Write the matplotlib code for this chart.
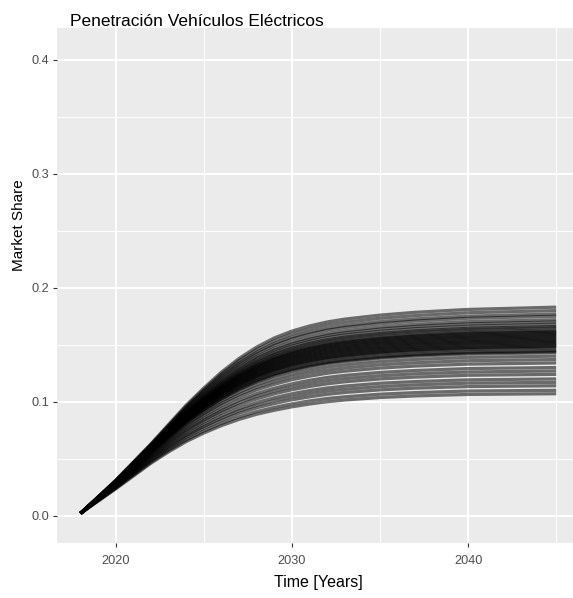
import numpy as np
import matplotlib
matplotlib.use("Agg")
import matplotlib.pyplot as plt
from matplotlib.ticker import FixedLocator

# ---------------- data ----------------
# one value per simulation run (40 runs) for each sampled year
years = [2018, 2020, 2022, 2023, 2024, 2025, 2026, 2027, 2028,
         2029, 2030, 2031, 2032, 2033, 2035, 2037, 2040, 2045]

share_2018 = [.0020, .0020, .0020, .0020, .0020, .0020, .0020, .0020, .0020, .0020,
              .0020, .0020, .0020, .0020, .0020, .0020, .0020, .0020, .0020, .0020,
              .0020, .0020, .0020, .0020, .0020, .0020, .0020, .0020, .0020, .0020,
              .0020, .0020, .0020, .0020, .0020, .0020, .0020, .0020, .0020, .0020]
share_2020 = [.0235, .0239, .0245, .0249, .0253, .0258, .0262, .0266, .0270, .0274,
              .0277, .0280, .0281, .0282, .0284, .0285, .0286, .0287, .0288, .0289,
              .0290, .0290, .0291, .0292, .0293, .0294, .0295, .0295, .0296, .0297,
              .0298, .0299, .0300, .0301, .0303, .0304, .0306, .0307, .0309, .0310]
share_2022 = [.0460, .0469, .0481, .0490, .0498, .0509, .0517, .0525, .0535, .0543,
              .0550, .0557, .0559, .0561, .0566, .0568, .0570, .0572, .0574, .0576,
              .0579, .0581, .0583, .0585, .0587, .0589, .0590, .0592, .0594, .0596,
              .0598, .0602, .0603, .0607, .0610, .0614, .0618, .0621, .0626, .0630]
share_2023 = [.0560, .0572, .0588, .0599, .0610, .0625, .0636, .0647, .0660, .0671,
              .0680, .0690, .0693, .0696, .0703, .0706, .0709, .0712, .0715, .0718,
              .0721, .0724, .0727, .0730, .0733, .0736, .0738, .0741, .0744, .0747,
              .0750, .0755, .0758, .0763, .0768, .0774, .0781, .0786, .0793, .0800]
share_2024 = [.0650, .0665, .0685, .0699, .0713, .0732, .0746, .0759, .0777, .0790,
              .0804, .0816, .0821, .0825, .0833, .0837, .0841, .0846, .0850, .0854,
              .0858, .0862, .0866, .0870, .0874, .0878, .0882, .0886, .0890, .0893,
              .0897, .0905, .0909, .0916, .0924, .0931, .0942, .0949, .0960, .0970]
share_2025 = [.0725, .0743, .0766, .0783, .0800, .0822, .0839, .0855, .0877, .0893,
              .0909, .0925, .0930, .0935, .0945, .0951, .0956, .0961, .0966, .0971,
              .0976, .0981, .0986, .0991, .0996, .1001, .1006, .1011, .1016, .1021,
              .1026, .1035, .1040, .1050, .1059, .1069, .1083, .1092, .1106, .1120]
share_2026 = [.0790, .0810, .0836, .0856, .0876, .0902, .0921, .0940, .0966, .0985,
              .1003, .1022, .1028, .1034, .1047, .1053, .1059, .1065, .1071, .1077,
              .1084, .1090, .1096, .1102, .1108, .1114, .1120, .1126, .1132, .1138,
              .1144, .1156, .1161, .1173, .1185, .1197, .1214, .1226, .1243, .1260]
share_2027 = [.0845, .0867, .0897, .0919, .0940, .0969, .0991, .1013, .1041, .1063,
              .1084, .1105, .1112, .1119, .1133, .1140, .1147, .1154, .1161, .1168,
              .1175, .1182, .1189, .1196, .1203, .1210, .1217, .1224, .1231, .1238,
              .1245, .1258, .1265, .1279, .1292, .1306, .1326, .1340, .1360, .1380]
share_2028 = [.0890, .0914, .0946, .0970, .0994, .1025, .1049, .1072, .1104, .1127,
              .1151, .1174, .1182, .1189, .1205, .1213, .1220, .1228, .1236, .1244,
              .1251, .1259, .1267, .1274, .1282, .1290, .1297, .1305, .1313, .1321,
              .1328, .1343, .1351, .1366, .1382, .1397, .1419, .1435, .1457, .1480]
share_2029 = [.0925, .0950, .0984, .1010, .1035, .1069, .1094, .1119, .1153, .1178,
              .1203, .1228, .1237, .1245, .1262, .1270, .1278, .1287, .1295, .1303,
              .1312, .1320, .1328, .1337, .1345, .1353, .1362, .1370, .1378, .1386,
              .1395, .1411, .1420, .1436, .1453, .1469, .1494, .1511, .1535, .1560]
share_2030 = [.0955, .0981, .1017, .1043, .1070, .1105, .1131, .1157, .1193, .1219,
              .1245, .1271, .1280, .1289, .1306, .1315, .1324, .1333, .1341, .1350,
              .1359, .1368, .1376, .1385, .1394, .1402, .1411, .1420, .1429, .1437,
              .1446, .1463, .1472, .1490, .1507, .1524, .1551, .1568, .1594, .1620]
share_2031 = [.0980, .1007, .1043, .1071, .1098, .1134, .1161, .1188, .1224, .1252,
              .1279, .1306, .1315, .1324, .1342, .1351, .1360, .1369, .1378, .1387,
              .1396, .1405, .1414, .1423, .1432, .1441, .1450, .1459, .1468, .1477,
              .1486, .1504, .1513, .1531, .1548, .1566, .1593, .1611, .1638, .1665]
share_2032 = [.1000, .1028, .1065, .1093, .1120, .1157, .1185, .1213, .1250, .1277,
              .1305, .1333, .1342, .1351, .1370, .1379, .1388, .1397, .1406, .1416,
              .1425, .1434, .1443, .1452, .1462, .1471, .1480, .1489, .1498, .1507,
              .1517, .1535, .1544, .1563, .1581, .1599, .1627, .1645, .1673, .1700]
share_2033 = [.1015, .1043, .1081, .1109, .1137, .1175, .1203, .1231, .1268, .1296,
              .1324, .1352, .1362, .1371, .1390, .1399, .1408, .1418, .1427, .1436,
              .1446, .1455, .1464, .1474, .1483, .1492, .1502, .1511, .1520, .1530,
              .1539, .1558, .1567, .1586, .1604, .1623, .1651, .1669, .1697, .1725]
share_2035 = [.1037, .1066, .1104, .1133, .1162, .1200, .1228, .1257, .1295, .1324,
              .1352, .1381, .1390, .1400, .1419, .1429, .1438, .1448, .1457, .1467,
              .1476, .1486, .1495, .1505, .1514, .1523, .1533, .1542, .1552, .1561,
              .1571, .1590, .1599, .1618, .1637, .1656, .1684, .1703, .1732, .1760]
share_2037 = [.1051, .1080, .1119, .1148, .1177, .1216, .1245, .1274, .1313, .1342,
              .1371, .1400, .1410, .1419, .1439, .1448, .1458, .1468, .1477, .1487,
              .1497, .1506, .1516, .1525, .1535, .1545, .1554, .1564, .1574, .1583,
              .1593, .1612, .1622, .1641, .1660, .1679, .1708, .1727, .1756, .1785]
share_2040 = [.1064, .1094, .1133, .1163, .1192, .1232, .1261, .1291, .1330, .1360,
              .1389, .1418, .1428, .1438, .1458, .1467, .1477, .1487, .1497, .1507,
              .1517, .1526, .1536, .1546, .1556, .1566, .1575, .1585, .1595, .1605,
              .1615, .1634, .1644, .1663, .1683, .1703, .1732, .1751, .1781, .1810]
share_2045 = [.1070, .1100, .1140, .1170, .1200, .1240, .1270, .1300, .1340, .1370,
              .1400, .1430, .1440, .1450, .1470, .1480, .1490, .1500, .1510, .1520,
              .1530, .1540, .1550, .1560, .1570, .1580, .1590, .1600, .1610, .1620,
              .1630, .1650, .1660, .1680, .1700, .1720, .1750, .1770, .1800, .1830]

y_ticks = [0.0, 0.1, 0.2, 0.3, 0.4]
y_tick_labels = ["0.0", "0.1", "0.2", "0.3", "0.4"]
x_ticks = [2020, 2030, 2040]
x_tick_labels = ["2020", "2030", "2040"]

title = "Penetración Vehículos Eléctricos"
x_label = "Time [Years]"
y_label = "Market Share"

# ---------------- figure ----------------
plt.rcParams['font.family'] = ['Liberation Sans', 'DejaVu Sans']

W, H = 573, 598
fig = plt.figure(figsize=(W / 100, H / 100), dpi=100)
fig.patch.set_facecolor("white")

left_px, right_px, top_px, bottom_px = 56.7, 580.0, 28.0, 543.0
ax = fig.add_axes([left_px / W, 1 - bottom_px / H,
                   (right_px - left_px) / W, (bottom_px - top_px) / H])
ax.set_facecolor("#EBEBEB")
for s in ax.spines.values():
    s.set_visible(False)

table = np.vstack([share_2018, share_2020, share_2022, share_2023, share_2024,
                   share_2025, share_2026, share_2027, share_2028, share_2029,
                   share_2030, share_2031, share_2032, share_2033, share_2035,
                   share_2037, share_2040, share_2045])  # rows: years, cols: runs

for run in range(table.shape[1]):
    ax.plot(years, table[:, run], color="black", lw=2.3, alpha=0.55,
            solid_capstyle="butt", solid_joinstyle="round", zorder=3)

ax.set_xlim(2016.65, 2046.35)
ax.set_ylim(-0.024, 0.428)

ax.xaxis.set_major_locator(FixedLocator(x_ticks))
ax.xaxis.set_minor_locator(FixedLocator([2015, 2025, 2035, 2045]))
ax.yaxis.set_major_locator(FixedLocator(y_ticks))
ax.yaxis.set_minor_locator(FixedLocator([0.05, 0.15, 0.25, 0.35]))
ax.set_xticklabels(x_tick_labels)
ax.set_yticklabels(y_tick_labels)

ax.grid(which="major", color="white", lw=1.4, zorder=0)
ax.grid(which="minor", color="white", lw=0.7, zorder=0)
ax.set_axisbelow(True)

ax.tick_params(which="major", length=3.0, width=0.8, color="#333333",
               labelcolor="#4D4D4D", labelsize=9.2, pad=2.5)
ax.tick_params(which="minor", length=0)
ax.tick_params(axis="x", pad=5.5)

fig.text(70 / W, 1 - 25.7 / H, title, fontsize=12.5, color="black",
         ha="left", va="baseline")
fig.text(318.5 / W, 1 - 583 / H, x_label, fontsize=11.5, color="black",
         ha="center", va="center")
fig.text(19 / W, 1 - 225.5 / H, y_label, fontsize=11, color="black",
         ha="center", va="center", rotation=90)

fig.savefig("out.png", dpi=100)
